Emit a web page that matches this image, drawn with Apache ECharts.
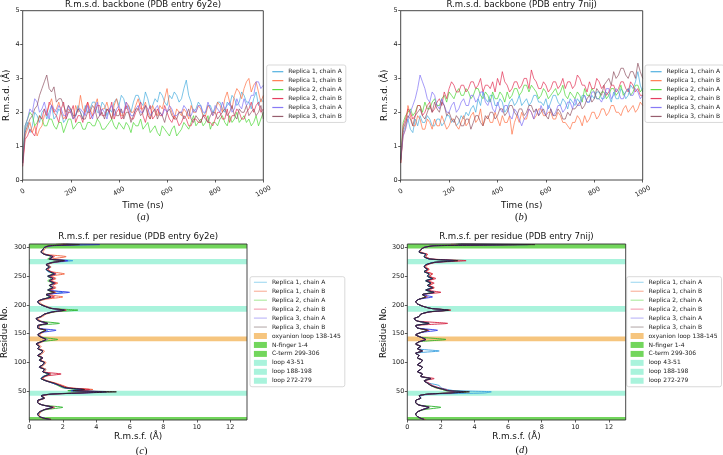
<!DOCTYPE html>
<html>
<head>
<meta charset="utf-8">
<script src="https://cdn.jsdelivr.net/npm/echarts@6/dist/echarts.min.js"></script>
<style>
  html, body { margin: 0; padding: 0; background: #fff; }
  #chart { width: 723px; height: 455px; }
</style>
</head>
<body>
<div id="chart"></div>
<script>
// ---- r.m.s.d. (Å) against simulation time (ns) ----
const timeNs = [0,10,20,30,40,50,60,70,80,90,100,110,120,130,140,150,160,170,180,190,200,
  210,220,230,240,250,260,270,280,290,300,310,320,330,340,350,360,370,380,390,400,
  410,420,430,440,450,460,470,480,490,500,510,520,530,540,550,560,570,580,590,600,
  610,620,630,640,650,660,670,680,690,700,710,720,730,740,750,760,770,780,790,800,
  810,820,830,840,850,860,870,880,890,900,910,920,930,940,950,960,970,980,990,1000];

const replicaNames = ['Replica 1, chain A', 'Replica 1, chain B', 'Replica 2, chain A',
  'Replica 2, chain B', 'Replica 3, chain A', 'Replica 3, chain B'];

// 6y2e
const rmsd6y2eR1A = [0.6,1.5, 1.7,1.4, 1.6,2.0, 1.9,1.7, 2.0,2.1, 1.8,2.0, 2.2,1.8, 1.9,2.1, 2.0,1.7, 1.8,2.0,
  2.1,1.8, 1.9,2.2, 2.0,1.8, 2.2,2.0, 2.1,2.3, 2.3,2.0, 2.0,2.3, 2.2,1.9, 2.1,2.0, 2.3,2.4,
  2.2,2.5, 2.4,2.1, 2.2,2.0, 2.3,2.5, 2.5,2.3, 2.2,2.6, 2.4,2.1, 2.2,2.4, 2.3,2.6, 2.5,2.3,
  2.2,2.5, 2.4,2.6, 2.5,2.3, 2.4,2.7, 2.95,2.5, 2.3,2.0, 2.1,2.3, 2.2,1.9, 2.0,2.2, 2.2,2.0,
  2.1,2.3, 2.3,2.1, 2.0,2.3, 2.2,2.5, 2.4,2.2, 2.3,2.6, 2.5,2.3, 2.3,2.1, 2.4,2.6, 2.2,2.4, 2.3];
const rmsd6y2eR1B = [0.5,1.3, 1.5,1.7, 1.4,1.6, 1.3,1.5, 1.6,1.9, 2.0,2.2, 2.4,2.0, 2.1,2.3, 2.0,1.8, 1.9,2.1,
  2.0,1.8, 2.2,2.0, 2.5,2.1, 2.0,2.3, 2.1,1.9, 2.2,2.4, 1.9,2.1, 2.1,2.3, 2.0,1.8, 2.2,2.4,
  2.1,1.9, 1.9,2.3, 2.2,2.0, 2.0,2.2, 2.4,2.1, 2.1,2.3, 2.0,1.8, 2.2,2.0, 1.9,2.2, 2.1,2.4,
  2.7,2.2, 2.0,1.8, 2.1,2.0, 1.9,2.1, 2.0,1.8, 2.2,2.0, 2.0,2.2, 2.1,1.9, 1.9,2.2, 2.1,1.9,
  2.0,2.3, 2.2,2.0, 2.4,2.6, 2.3,2.1, 2.5,2.7, 2.6,2.4, 2.7,2.9, 3.0,2.6, 2.8,2.9, 2.6,2.3, 2.5];
const rmsd6y2eR2A = [0.6,1.6, 1.8,2.0, 1.9,1.6, 1.7,1.9, 1.8,1.6, 1.6,1.8, 1.8,1.6, 1.5,1.7, 1.7,1.4, 1.6,1.8,
  1.8,1.5, 1.6,1.7, 1.7,1.5, 1.5,1.7, 1.7,1.6, 1.6,1.8, 1.7,1.5, 1.5,1.6, 1.7,1.8, 1.6,1.5,
  1.7,1.6, 1.5,1.7, 1.6,1.4, 1.7,1.6, 1.6,1.8, 1.5,1.6, 1.7,1.4, 1.5,1.6, 1.4,1.3, 1.6,1.5,
  1.4,1.3, 1.5,1.6, 1.3,1.4, 1.5,1.7, 1.6,1.5, 1.7,1.9, 1.6,1.7, 1.8,1.6, 1.7,1.9, 1.5,1.7,
  1.7,1.6, 1.8,1.9, 1.7,1.6, 1.9,1.7, 1.8,2.0, 1.7,1.8, 1.9,1.7, 1.8,1.6, 1.7,1.9, 1.6,1.8, 2.0];
const rmsd6y2eR2B = [0.4,1.2, 1.3,1.5, 1.4,1.3, 1.6,1.9, 1.8,2.1, 1.9,2.3, 2.2,2.0, 1.9,1.7, 2.1,2.3, 1.8,2.0,
  2.0,2.2, 1.7,1.9, 1.9,1.7, 2.1,2.3, 1.8,1.9, 2.0,2.2, 2.2,1.9, 1.9,2.1, 2.0,2.3, 1.8,2.0,
  2.1,1.8, 1.9,2.2, 2.0,1.8, 1.8,2.0, 2.1,2.3, 1.9,1.7, 2.0,2.2, 1.8,1.9, 2.1,1.9, 1.9,2.2,
  2.0,1.8, 1.7,1.9, 1.8,1.6, 1.7,1.9, 1.8,1.6, 1.6,1.8, 1.8,1.7, 1.7,1.9, 1.9,1.7, 1.7,1.6,
  1.8,2.0, 2.0,1.8, 1.8,2.1, 1.7,1.9, 1.9,2.1, 2.0,1.8, 1.8,2.0, 2.1,2.3, 2.0,2.2, 2.3,2.0, 2.1];
const rmsd6y2eR3A = [0.5,1.6, 1.8,2.1, 2.0,2.4, 2.3,2.0, 2.1,2.3, 2.0,1.8, 2.2,2.1, 2.0,2.2, 2.1,1.9, 1.9,2.2,
  2.0,1.8, 1.9,2.1, 2.1,2.0, 1.9,2.2, 2.0,1.8, 2.1,2.3, 1.9,2.1, 2.0,1.8, 2.1,2.2, 1.9,2.1,
  2.2,2.0, 2.0,2.3, 2.1,1.9, 1.9,2.1, 2.2,2.0, 2.0,2.2, 2.1,1.9, 2.0,2.1, 2.2,2.0, 1.9,2.1,
  2.0,2.2, 2.1,1.9, 1.9,2.0, 2.0,2.2, 2.1,1.9, 1.9,2.1, 2.0,2.2, 2.2,2.0, 2.0,2.3, 2.1,1.9,
  2.2,2.1, 2.0,2.3, 2.1,2.2, 2.3,2.0, 2.1,2.4, 2.2,2.1, 2.4,2.2, 2.3,2.5, 2.5,2.9, 2.9,2.7, 2.8];
const rmsd6y2eR3B = [0.5,1.4, 1.6,1.8, 1.9,2.1, 2.2,2.5, 2.7,2.9, 3.1,2.7, 2.6,2.75, 2.3,2.4, 2.4,2.2, 2.0,2.2,
  2.1,1.9, 1.9,2.1, 2.0,1.8, 1.8,2.0, 2.0,2.2, 2.1,1.8, 1.9,2.0, 1.8,2.1, 2.0,1.8, 2.1,1.9,
  1.9,2.1, 1.8,2.0, 2.0,1.7, 1.9,2.1, 2.1,1.9, 2.0,2.2, 1.9,1.8, 2.0,2.1, 1.8,2.0, 1.9,1.7,
  2.0,2.1, 1.9,1.8, 1.8,2.0, 2.0,1.8, 1.9,2.1, 1.8,1.7, 1.9,1.8, 1.7,1.9, 1.8,1.7, 1.9,2.0,
  2.0,1.8, 1.9,2.0, 2.1,1.9, 2.0,2.2, 1.9,1.8, 2.1,2.0, 2.0,2.2, 1.9,2.0, 2.1,1.9, 2.0,2.2, 1.8];

// 7nij
const rmsd7nijR1A = [0.6,1.4, 1.6,1.8, 1.5,1.4, 1.8,1.6, 1.9,1.7, 1.7,1.9, 1.8,1.6, 1.6,1.8, 1.8,1.6, 1.7,1.9,
  1.9,1.7, 1.8,1.6, 1.7,1.9, 1.8,2.0, 1.9,2.1, 2.2,2.0, 2.4,2.2, 2.6,2.4, 2.3,2.5, 2.5,2.2,
  2.2,2.4, 2.3,2.0, 2.1,2.3, 2.4,2.2, 2.3,2.5, 2.2,2.3, 2.4,2.2, 2.3,2.5, 2.5,2.3, 2.3,2.2,
  2.4,2.1, 2.3,2.5, 2.5,2.3, 2.2,2.4, 2.3,2.1, 2.4,2.3, 2.2,2.4, 2.3,2.5, 2.5,2.3, 2.3,2.5,
  2.4,2.6, 2.6,2.4, 2.4,2.6, 2.5,2.3, 2.6,2.4, 2.4,2.7, 2.6,2.4, 2.5,2.8, 2.7,2.9, 3.2,2.8, 2.6];
const rmsd7nijR1B = [0.5,1.3, 1.5,2.2, 1.9,1.6, 1.6,1.9, 1.8,1.5, 1.5,1.8, 1.7,1.5, 1.8,1.6, 1.6,1.9, 1.7,1.5,
  1.6,1.8, 1.8,1.6, 1.5,1.7, 1.9,1.6, 1.7,1.9, 2.0,1.7, 1.8,2.1, 1.6,1.8, 1.9,1.7, 1.7,2.0,
  1.8,1.6, 1.9,1.7, 1.7,1.9, 1.35,1.7, 1.9,1.7, 2.0,1.8, 1.8,2.1, 2.0,1.8, 1.9,2.1, 2.1,1.9,
  1.9,2.0, 2.0,1.8, 1.8,2.0, 1.9,1.7, 1.7,1.6, 1.5,1.7, 1.7,1.9, 1.8,1.6, 1.9,1.7, 1.8,2.0,
  2.0,1.8, 1.9,2.1, 2.1,1.9, 2.0,2.2, 2.2,2.0, 2.0,1.9, 2.1,2.2, 2.0,2.1, 2.2,2.0, 2.1,2.3, 2.2];
const rmsd7nijR2A = [0.6,1.7, 1.9,2.0, 2.1,1.9, 2.0,2.2, 2.2,2.0, 2.3,2.1, 2.1,2.3, 2.4,2.2, 2.2,2.4, 2.5,2.3,
  2.6,2.5, 2.4,2.6, 2.7,2.5, 2.5,2.7, 2.6,2.4, 2.5,2.7, 2.7,2.5, 2.4,2.6, 2.5,2.3, 2.6,2.4,
  2.4,2.6, 2.5,2.3, 2.6,2.4, 2.5,2.7, 2.7,2.5, 2.6,2.8, 2.8,2.6, 2.8,2.7, 2.6,2.4, 2.5,2.7,
  2.6,2.4, 2.5,2.6, 2.7,2.5, 2.6,2.8, 2.5,2.4, 2.6,2.5, 2.4,2.6, 2.5,2.3, 2.7,2.5, 2.5,2.7,
  2.6,2.4, 2.4,2.6, 2.6,2.4, 2.5,2.7, 2.7,2.5, 2.6,2.8, 2.5,2.6, 2.7,2.5, 2.6,2.8, 2.8,2.6, 2.7];
const rmsd7nijR2B = [0.5,1.6, 1.8,2.1, 2.0,1.8, 1.9,2.2, 2.2,1.9, 2.0,2.2, 2.3,2.0, 2.1,2.3, 2.4,2.2, 2.6,2.4,
  2.7,2.9, 2.8,2.6, 2.6,2.8, 2.8,2.6, 2.7,2.9, 2.9,2.7, 2.8,3.0, 2.6,2.8, 2.8,2.7, 2.9,2.6,
  3.0,2.8, 3.2,2.9, 2.8,2.6, 2.7,2.9, 2.9,2.7, 2.8,3.0, 3.0,2.7, 3.25,3.0, 2.9,2.7, 2.7,2.9,
  2.8,2.6, 2.7,2.9, 2.9,2.7, 2.8,3.0, 2.7,2.9, 2.9,2.7, 2.8,3.1, 3.0,2.8, 2.8,2.6, 2.9,2.7,
  2.7,3.0, 2.9,2.7, 2.8,2.5, 2.6,2.8, 2.8,2.6, 2.7,2.9, 2.9,2.7, 2.6,2.9, 2.8,2.6, 2.7,2.5, 2.5];
const rmsd7nijR3A = [0.6,1.3, 1.5,1.8, 2.0,2.2, 2.4,2.7, 3.1,2.9, 2.7,2.4, 2.3,2.6, 2.5,2.2, 2.1,2.4, 2.2,2.0,
  2.0,2.2, 2.3,2.0, 2.1,2.3, 2.4,2.2, 2.2,2.5, 2.5,2.3, 2.4,2.6, 2.6,2.3, 2.2,2.4, 2.1,2.0,
  2.3,2.1, 2.0,2.2, 2.2,1.9, 1.8,2.1, 2.0,1.8, 1.6,1.8, 1.9,2.1, 2.0,1.8, 2.1,1.9, 2.2,2.0,
  1.9,2.2, 2.1,1.9, 2.0,2.2, 2.2,2.0, 2.1,2.3, 2.3,2.1, 2.4,2.2, 2.2,2.4, 2.5,2.3, 2.3,2.6,
  2.6,2.4, 2.4,2.3, 2.5,2.7, 2.7,2.4, 2.5,2.7, 2.6,2.4, 2.4,2.6, 2.7,2.5, 2.5,2.7, 2.6,2.4, 2.5];
const rmsd7nijR3B = [0.5,1.5, 1.7,1.9, 1.8,1.6, 1.9,2.0, 2.1,1.9, 1.8,2.0, 2.2,2.0, 2.3,2.1, 2.0,2.3, 2.2,1.9,
  2.0,1.8, 1.7,1.9, 1.8,1.6, 1.6,1.8, 1.8,1.5, 1.7,1.9, 1.9,1.7, 1.6,1.9, 1.8,2.0, 2.0,1.8,
  1.9,2.1, 2.1,1.9, 2.0,2.2, 2.2,2.0, 1.9,2.1, 2.1,1.9, 2.0,2.2, 2.2,2.0, 2.1,1.9, 2.0,2.1,
  1.9,1.8, 2.1,1.9, 1.9,2.1, 2.0,1.8, 1.8,2.0, 1.9,2.1, 2.1,2.2, 2.3,2.1, 2.2,2.4, 2.5,2.3,
  2.4,2.7, 2.6,2.5, 2.8,2.9, 3.0,2.8, 3.2,3.0, 3.1,3.3, 3.3,3.1, 3.0,3.2, 3.2,3.0, 3.45,3.2, 3.0];

// ---- r.m.s.f. (Å) per residue ----
const residues = [1,3,6,10,14,18,22,26,30,34, 38,42,45,47,49,51,53,56,60,64,
  68,72,76,80,84,88,92,96,100,104, 108,112,116,120,124,128,132,136,140,144,
  148,152,156,160,164,168,172,176,180,184, 188,191,194,198,202,206,210,214,218,222,
  226,230,234,238,242,246,250,254,258,262, 266,270,274,277,280,284,288,292,296,300,
  303,305,306];

const rmsf6y2eR1A = [1.2,0.9,0.6,0.5,0.7,0.9,1.3,0.8,0.5,0.6, 0.8,0.7,1.2,2.8,4.4,2.4,3.0,2.1,1.9,1.4,
  1.1,0.7,0.8,1.3,0.8,1.0,0.6,0.8,0.9,0.6, 0.7,0.6,0.7,0.8,0.6,0.6,0.5,0.7,1.1,0.7,
  0.6,0.7,1.1,0.5,0.6,1.0,0.6,0.5,0.7,0.9, 1.3,2.0,1.4,0.9,0.6,0.5,0.9,1.2,1.1,2.0,
  1.2,1.5,1.3,1.4,1.3,1.5,1.2,1.6,1.1,1.0, 1.3,1.1,1.5,2.6,1.3,1.3,1.0,0.7,0.8,0.9,
  1.3,2.6,1.8];
const rmsf6y2eR1B = [1.2,0.8,0.6,0.6,0.7,0.9,1.4,0.8,0.5,0.6, 0.9,0.8,1.4,2.9,3.9,3.0,3.8,2.4,2.0,1.6,
  1.1,0.8,1.0,1.3,0.9,1.0,0.7,0.9,1.0,0.7, 0.8,0.6,0.8,0.9,0.6,0.7,0.5,0.8,1.0,0.8,
  0.6,0.8,1.0,0.6,0.6,1.1,0.7,0.5,0.8,1.0, 1.5,2.2,1.4,1.0,0.7,0.6,1.0,2.0,1.2,1.6,
  1.3,1.6,1.4,1.7,1.3,1.6,1.3,2.1,1.3,1.1, 1.3,1.1,1.5,2.2,1.4,2.2,1.0,0.8,0.9,1.0,
  1.3,2.5,1.7];
const rmsf6y2eR2A = [1.1,0.8,0.6,0.5,0.6,1.0,2.0,0.8,0.5,0.5, 0.9,0.7,1.2,2.7,4.0,2.3,2.9,2.0,1.7,1.4,
  1.0,0.7,0.9,1.1,0.8,0.9,0.6,0.8,0.9,0.6, 0.7,0.5,0.7,0.8,0.5,0.6,0.4,0.7,1.7,0.7,
  0.5,0.7,0.9,0.5,0.5,1.8,0.6,0.4,0.7,0.9, 1.5,2.9,1.3,0.9,0.6,0.5,0.8,1.2,1.0,1.4,
  1.1,1.3,1.2,1.4,1.1,1.3,1.1,1.4,1.2,1.0, 1.2,1.0,1.3,2.0,1.1,1.3,0.9,0.7,0.8,0.9,
  1.1,2.4,1.6];
const rmsf6y2eR2B = [1.3,0.9,0.6,0.5,0.6,0.9,1.5,0.8,0.5,0.5, 0.9,0.7,1.4,3.1,4.3,2.8,3.6,2.3,1.9,1.5,
  1.0,0.8,0.9,1.9,0.8,0.9,0.6,0.8,0.9,0.6, 0.8,0.5,0.7,0.8,0.5,0.6,0.4,0.7,1.0,0.7,
  0.5,0.7,1.0,0.5,0.5,1.1,0.6,0.4,0.7,0.9, 1.4,2.2,1.3,0.9,0.6,0.5,0.8,1.5,1.0,1.5,
  1.2,1.5,1.2,1.6,1.2,1.5,1.2,1.6,1.3,1.1, 1.2,1.0,1.4,2.1,1.2,1.5,0.9,0.7,0.8,0.9,
  1.2,2.8,1.9];
const rmsf6y2eR3A = [1.2,0.9,0.6,0.5,0.6,0.9,1.4,0.8,0.5,0.5, 0.9,0.7,1.3,3.3,4.6,2.5,3.2,2.1,1.8,1.4,
  1.0,0.7,0.9,1.2,0.8,0.9,0.6,0.8,0.9,0.6, 0.8,0.5,0.7,0.8,0.5,0.6,0.4,0.7,1.0,0.7,
  0.5,0.7,1.6,0.5,0.5,1.1,0.6,0.4,0.7,0.9, 1.4,2.1,1.3,0.9,0.6,0.5,0.8,1.3,1.0,2.4,
  1.1,1.4,1.2,1.5,1.2,1.4,1.1,1.5,1.2,1.0, 1.2,1.0,1.4,2.3,1.2,1.4,0.9,0.7,0.8,0.9,
  1.4,4.2,2.2];
const rmsf6y2eR3B = [1.3,0.9,0.6,0.5,0.6,0.9,1.4,0.8,0.5,0.5, 0.9,0.7,1.3,3.2,5.2,2.6,3.3,2.2,1.8,1.5,
  1.0,0.7,0.9,1.2,0.8,0.9,0.6,0.8,0.9,0.6, 0.8,0.5,0.7,0.8,0.5,0.6,0.4,0.7,1.0,0.7,
  0.5,0.7,1.0,0.5,0.5,1.1,0.6,0.4,0.7,0.9, 1.4,2.1,1.3,0.9,0.6,0.5,0.8,1.3,1.0,1.5,
  1.1,1.4,1.2,1.5,1.2,1.4,1.1,1.5,1.2,1.0, 1.2,1.0,1.4,2.1,1.2,1.4,0.9,0.7,0.8,0.9,
  1.2,3.0,2.0];

const rmsf7nijR1A = [1.0,0.8,0.6,0.5,0.6,0.9,1.2,0.7,0.5,0.5, 0.8,0.8,1.5,4.6,5.0,2.8,2.4,2.0,1.9,1.3,
  1.0,1.3,0.8,0.9,0.6,0.8,0.9,0.6,0.8,0.9, 0.6,0.7,0.5,1.9,0.6,0.8,0.5,0.7,1.1,0.8,
  0.5,0.8,1.1,0.6,0.5,1.2,0.6,0.4,0.7,0.8, 1.3,2.3,1.4,0.9,0.6,0.5,0.7,1.1,0.9,1.5,
  1.1,1.4,1.2,1.4,1.1,1.4,1.2,1.3,1.0,1.2, 1.0,1.1,1.5,2.5,1.3,1.0,1.1,0.7,0.8,1.0,
  1.5,5.5,2.8];
const rmsf7nijR1B = [1.1,0.8,0.6,0.5,0.6,0.9,1.3,0.7,0.5,0.5, 0.8,0.7,1.2,2.4,3.3,2.3,2.1,1.7,1.4,1.2,
  1.0,1.3,0.8,0.9,0.6,0.8,0.9,0.6,0.8,0.9, 0.6,0.7,0.5,0.9,0.6,0.8,0.5,0.7,1.0,0.8,
  0.5,0.8,1.2,0.6,0.5,1.3,0.6,0.4,0.7,0.8, 1.3,2.4,1.4,0.9,0.6,0.5,0.7,1.1,0.9,1.6,
  1.2,1.6,1.3,1.5,1.2,1.6,1.3,1.5,1.1,1.3, 1.1,1.2,1.6,2.6,1.4,1.1,1.2,0.8,0.8,1.0,
  1.5,5.0,2.6];
const rmsf7nijR2A = [1.0,0.8,0.6,0.5,0.6,1.0,2.0,0.7,0.5,0.5, 0.8,0.7,1.2,2.5,3.5,2.3,2.1,1.7,1.4,1.2,
  1.0,1.4,0.8,0.9,0.6,0.8,0.9,0.6,0.8,0.9, 0.6,0.7,0.5,0.9,0.6,0.8,0.5,0.7,2.3,0.8,
  0.5,0.8,1.2,0.6,0.5,1.3,0.6,0.4,0.7,0.8, 1.3,2.4,1.4,0.9,0.6,0.5,0.7,1.1,0.9,1.5,
  1.1,1.5,1.2,1.4,1.1,1.5,1.2,1.3,1.0,1.2, 1.0,1.1,1.6,2.5,1.3,1.0,1.1,0.7,0.8,1.0,
  1.5,5.8,2.9];
const rmsf7nijR2B = [1.0,0.8,0.6,0.5,0.6,0.9,1.3,0.7,0.5,0.5, 0.8,0.7,1.3,2.6,2.8,2.5,2.3,1.9,1.5,1.3,
  1.0,1.6,0.8,0.9,0.6,0.8,0.9,0.6,0.8,0.9, 0.6,0.7,0.5,0.9,0.6,0.8,0.5,0.7,1.1,0.8,
  0.5,0.8,1.3,0.6,0.5,2.4,0.6,0.4,0.7,0.8, 1.4,2.6,1.4,0.9,0.6,0.5,0.7,1.2,0.9,2.0,
  1.2,1.6,1.3,1.6,1.2,1.7,1.3,1.5,1.1,1.3, 1.0,1.2,1.7,3.5,1.4,1.1,1.2,0.7,0.8,1.0,
  1.6,6.5,3.2];
const rmsf7nijR3A = [1.0,0.8,0.6,0.5,0.6,0.9,1.3,0.7,0.5,0.5, 0.8,0.7,1.2,2.7,3.4,2.4,2.2,1.8,1.4,1.2,
  1.0,1.4,0.8,0.9,0.6,0.8,0.9,0.6,0.8,0.9, 0.6,0.7,0.5,0.9,0.6,0.8,0.5,0.7,1.1,0.8,
  0.5,0.8,1.8,0.6,0.5,1.3,0.6,0.4,0.7,0.8, 1.3,2.4,1.4,0.9,0.6,0.5,0.7,1.5,0.9,1.6,
  1.1,1.5,1.2,1.4,1.1,1.5,1.2,1.3,1.0,1.2, 1.0,1.1,1.6,2.8,1.3,1.0,1.1,0.7,0.8,1.0,
  1.6,7.2,3.1];
const rmsf7nijR3B = [1.0,0.8,0.6,0.5,0.6,0.9,1.3,0.7,0.5,0.5, 0.8,0.7,1.2,2.6,3.7,2.4,2.2,1.8,1.4,1.2,
  1.0,1.4,0.8,0.9,0.6,0.8,0.9,0.6,0.8,0.9, 0.6,0.7,0.5,0.9,0.6,0.8,0.5,0.7,1.1,0.8,
  0.5,0.8,1.2,0.6,0.5,1.3,0.6,0.4,0.7,0.8, 1.3,2.5,1.4,0.9,0.6,0.5,0.7,1.1,0.9,1.6,
  1.1,1.5,1.2,1.4,1.1,1.5,1.2,1.3,1.0,1.2, 1.0,1.1,1.6,3.0,1.3,1.0,1.1,0.7,0.8,1.0,
  1.6,7.6,3.0];

// highlighted residue ranges
const bandNames = ['oxyanion loop 138-145', 'N-finger 1-4', 'C-term 299-306',
  'loop 43-51', 'loop 188-198', 'loop 272-279'];
const bandStart = [137, 0, 298, 42, 188, 271];
const bandEnd = [145, 5, 306, 51, 198, 280];

// ---- styles ----
const FONT = 'DejaVu Sans';
const rmsdColors = ['#3fa9dd', '#ff6b3d', '#44d62e', '#e2294f', '#7b6cf5', '#8c4d5e'];
const rmsfColors = ['#3aa0e0', '#f2603c', '#2fb52f', '#d42040', '#2a3ae6', '#2e1e1e'];
const rmsfLegendColors = ['#a9dcf2', '#f9b6a2', '#b2eca4', '#f4a4b6', '#c0baf8', '#bdb3b3'];
const bandColors = ['#f6c57e', '#72d65c', '#72d65c', '#a9f3dc', '#a9f3dc', '#a9f3dc'];

const stripTag = name => name.replace(/^[abcd]:/, '');
const hideSymbol = { opacity: 0, color: 'rgba(0,0,0,0)', borderWidth: 0 };

function axisBase(grid, min, max, interval) {
  return {
    type: 'value', gridIndex: grid, min: min, max: max, interval: interval,
    splitLine: { show: false },
    axisLine: { show: false },
    axisTick: { show: true, inside: false, length: 2.5, lineStyle: { color: '#333', width: 0.8 } },
    axisLabel: { color: '#222', fontSize: 6.5, fontFamily: FONT, margin: 3 },
    nameLocation: 'middle',
    nameTextStyle: { color: '#111', fontSize: 8.8, fontFamily: FONT }
  };
}

const grids = [
  { left: 22.7, top: 10.7, width: 240.6, height: 169.3 },
  { left: 400.7, top: 10.7, width: 242, height: 169.3 },
  { left: 29.3, top: 244, width: 217.7, height: 176 },
  { left: 407.3, top: 244, width: 218.4, height: 176 }
].map(g => Object.assign(g, {
  show: true, borderColor: '#333', borderWidth: 0.9, backgroundColor: 'transparent',
  z: 10, containLabel: false, outerBoundsMode: 'none'
}));

const xAxes = [0, 1].map(i => Object.assign(axisBase(i, 0, 1000, 200), {
  name: 'Time (ns)', nameGap: 19,
  axisLabel: { color: '#222', fontSize: 6.5, fontFamily: FONT, rotate: 30, align: 'center',
    verticalAlign: 'middle', margin: 11.5, formatter: v => String(v) }
})).concat([2, 3].map(i => Object.assign(axisBase(i, 0, 13, 2), {
  name: 'R.m.s.f. (Å)', nameGap: 12,
  axisLabel: { color: '#222', fontSize: 6.5, fontFamily: FONT, margin: 4, showMaxLabel: false }
})));

const yAxes = [0, 1].map(i => Object.assign(axisBase(i, 0, 5, 1), {
  name: 'R.m.s.d. (Å)', nameGap: 10
})).concat([2, 3].map(i => Object.assign(axisBase(i, 0, 306, 50), {
  name: 'Residue No.', nameGap: i === 2 ? 20 : 18,
  axisLabel: { color: '#222', fontSize: 6.5, fontFamily: FONT, margin: 3,
    showMinLabel: false, showMaxLabel: false }
})));

const series = [];

function addRmsd(tag, grid, arrays) {
  arrays.forEach((vals, k) => {
    series.push({
      name: tag + ':' + replicaNames[k], type: 'line', xAxisIndex: grid, yAxisIndex: grid,
      data: timeNs.map((t, i) => [t, vals[i]]),
      symbol: 'none', z: 3, color: rmsdColors[k],
      lineStyle: { width: 0.75, color: rmsdColors[k], opacity: 0.9 }
    });
  });
}

function addRmsf(tag, grid, arrays) {
  bandNames.forEach((b, k) => {
    series.push({
      name: tag + ':' + b, type: 'line', xAxisIndex: grid, yAxisIndex: grid,
      data: [], symbol: 'none', z: 1, color: bandColors[k],
      itemStyle: { color: bandColors[k] }, lineStyle: { color: bandColors[k] },
      markArea: {
        silent: true, z: 1,
        itemStyle: { color: bandColors[k], opacity: 1 },
        data: [[{ xAxis: 0, yAxis: bandStart[k] }, { xAxis: 13, yAxis: bandEnd[k] }]]
      }
    });
  });
  arrays.forEach((vals, k) => {
    series.push({
      name: tag + ':' + replicaNames[k], type: 'line', xAxisIndex: grid, yAxisIndex: grid,
      data: residues.map((r, i) => [vals[i], r]),
      symbol: 'none', z: 3, smooth: 0.2, color: rmsfColors[k],
      lineStyle: { width: 0.9, color: rmsfColors[k] }
    });
  });
}

addRmsd('a', 0, [rmsd6y2eR1A, rmsd6y2eR1B, rmsd6y2eR2A, rmsd6y2eR2B, rmsd6y2eR3A, rmsd6y2eR3B]);
addRmsd('b', 1, [rmsd7nijR1A, rmsd7nijR1B, rmsd7nijR2A, rmsd7nijR2B, rmsd7nijR3A, rmsd7nijR3B]);
addRmsf('c', 2, [rmsf6y2eR1A, rmsf6y2eR1B, rmsf6y2eR2A, rmsf6y2eR2B, rmsf6y2eR3A, rmsf6y2eR3B]);
addRmsf('d', 3, [rmsf7nijR1A, rmsf7nijR1B, rmsf7nijR2A, rmsf7nijR2B, rmsf7nijR3A, rmsf7nijR3B]);

function legendBase(left, top, padding, itemWidth) {
  return {
    orient: 'vertical', left: left, top: top, padding: padding,
    itemWidth: itemWidth, itemHeight: 6, itemGap: 2.95,
    backgroundColor: '#fff', borderColor: '#cfcfcf', borderWidth: 0.8, borderRadius: 2,
    formatter: stripTag, selectedMode: false,
    textStyle: { fontSize: 6, fontFamily: FONT, color: '#222' }
  };
}

const rmsdLegendData = tag => replicaNames.map((n, k) => ({
  name: tag + ':' + n, itemStyle: hideSymbol, lineStyle: { color: rmsdColors[k], width: 1.2 }
}));
const rmsfLegendData = tag => replicaNames.map((n, k) => ({
  name: tag + ':' + n, itemStyle: hideSymbol, lineStyle: { color: rmsfLegendColors[k], width: 1.2 }
})).concat(bandNames.map((b, k) => ({
  name: tag + ':' + b, icon: 'rect', itemStyle: { color: bandColors[k] }
})));

const legends = [
  Object.assign(legendBase(266.7, 65, [3.7, 4, 3, 5], 11), { data: rmsdLegendData('a') }),
  Object.assign(legendBase(645, 65, [3.7, 4, 3, 5], 11), { data: rmsdLegendData('b') }),
  Object.assign(legendBase(250, 276.7, [2.6, 4, 3, 3.3], 13), { data: rmsfLegendData('c') }),
  Object.assign(legendBase(626.7, 276.7, [2.6, 4, 3, 3.3], 13), { data: rmsfLegendData('d') })
];

function titleText(x, y, text) {
  return { type: 'text', x: x, y: y, z: 20,
    style: { text: text, fontSize: 8.6, fontFamily: FONT, fill: '#111', align: 'center', verticalAlign: 'middle' } };
}
function panelLabel(x, y, letter) {
  return { type: 'text', x: x, y: y, z: 20,
    style: { text: '{p|(}{i|' + letter + '}{p|)}', align: 'center', verticalAlign: 'middle',
      rich: {
        p: { fontSize: 10.5, fontFamily: 'Liberation Serif', fill: '#111' },
        i: { fontSize: 10.5, fontFamily: 'Liberation Serif', fontStyle: 'italic', fill: '#111' }
      } } };
}

const chart = echarts.init(document.getElementById('chart'), null, { renderer: 'canvas' });
chart.setOption({
  animation: false,
  backgroundColor: '#fff',
  grid: grids,
  xAxis: xAxes,
  yAxis: yAxes,
  legend: legends,
  series: series,
  graphic: [
    titleText(143, 4.5, 'R.m.s.d. backbone (PDB entry 6y2e)'),
    titleText(521.7, 4.5, 'R.m.s.d. backbone (PDB entry 7nij)'),
    titleText(138.2, 236.7, 'R.m.s.f. per residue (PDB entry 6y2e)'),
    titleText(516.5, 236.7, 'R.m.s.f. per residue (PDB entry 7nij)'),
    panelLabel(143, 217, 'a'),
    panelLabel(521, 217, 'b'),
    panelLabel(141.7, 451, 'c'),
    panelLabel(521.5, 450, 'd')
  ]
});
</script>
</body>
</html>
